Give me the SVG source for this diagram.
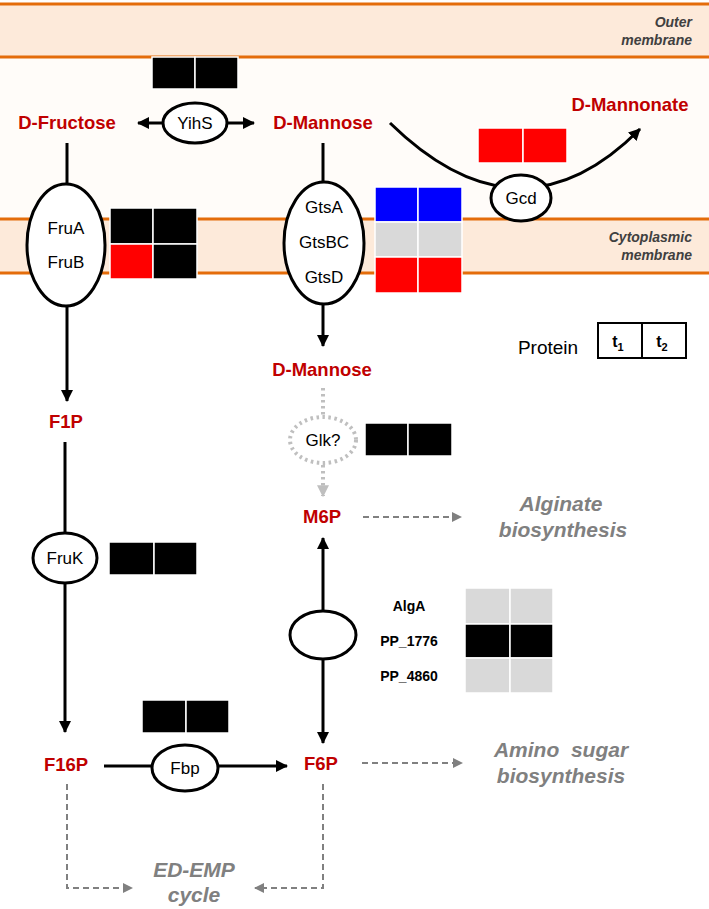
<svg xmlns="http://www.w3.org/2000/svg" width="709" height="909" viewBox="0 0 709 909">
<defs>
<style>
.mem{fill:#fdeada}
.ml{stroke:#e46c0a;stroke-width:3}
.met{font-family:"Liberation Sans",Arial,sans-serif;font-weight:bold;font-size:18.5px;fill:#c00000;text-anchor:middle}
.enz{font-family:"Liberation Sans",Arial,sans-serif;font-size:17px;fill:#000;text-anchor:middle}
.ell{fill:#fff;stroke:#000;stroke-width:3}
.ln{stroke:#000;stroke-width:3;fill:none}
.dash{stroke:#808080;stroke-width:2;stroke-dasharray:6 4;fill:none}
.dot{stroke:#bfbfbf;stroke-width:4;stroke-dasharray:2.5 3.5;fill:none}
.gl{font-family:"Liberation Sans",Arial,sans-serif;font-weight:bold;font-style:italic;font-size:21px;fill:#808080;text-anchor:middle}
.ml2{font-family:"Liberation Sans",Arial,sans-serif;font-weight:bold;font-style:italic;font-size:14px;fill:#404040;text-anchor:end}
.sm{font-family:"Liberation Sans",Arial,sans-serif;font-weight:bold;font-size:14px;fill:#000;text-anchor:middle}
.c{stroke:#fff;stroke-width:1.5}
.k{fill:#000}.r{fill:#ff0000}.b{fill:#0000ff}.g{fill:#d9d9d9}
</style>
<marker id="ah" viewBox="0 0 12 12" refX="11" refY="6" markerWidth="4" markerHeight="4" orient="auto-start-reverse" markerUnits="strokeWidth"><path d="M0,0 L12,6 L0,12 z" fill="#000"/></marker>
<marker id="ag" viewBox="0 0 10 10" refX="9" refY="5" markerWidth="5" markerHeight="5" orient="auto" markerUnits="strokeWidth"><path d="M0,0 L10,5 L0,10 z" fill="#808080"/></marker>
<marker id="al" viewBox="0 0 10 10" refX="9" refY="5" markerWidth="3" markerHeight="3" orient="auto" markerUnits="strokeWidth"><path d="M0,0 L10,5 L0,10 z" fill="#bfbfbf"/></marker>
</defs>
<rect width="709" height="909" fill="#fff"/>
<g id="membranes">
<rect x="0" y="57" width="709" height="162" fill="#fffcf9"/>
<rect class="mem" x="0" y="4" width="709" height="53"/>
<line class="ml" x1="0" y1="4" x2="709" y2="4"/>
<line class="ml" x1="0" y1="57" x2="709" y2="57"/>
<text class="ml2" x="692" y="27">Outer</text>
<text class="ml2" x="692" y="45">membrane</text>
<rect class="mem" x="0" y="219" width="709" height="54"/>
<line class="ml" x1="0" y1="219" x2="709" y2="219"/>
<line class="ml" x1="0" y1="273" x2="709" y2="273"/>
<text class="ml2" x="692" y="242">Cytoplasmic</text>
<text class="ml2" x="692" y="260">membrane</text>
</g>
<g id="connectors">
<line class="ln" x1="138" y1="123" x2="254" y2="123" marker-start="url(#ah)" marker-end="url(#ah)"/>
<path class="ln" d="M390,123 Q520,250 640,129" marker-end="url(#ah)"/>
<line class="ln" x1="67" y1="143" x2="67" y2="186"/>
<line class="ln" x1="323" y1="143" x2="323" y2="184"/>
<line class="ln" x1="67" y1="304" x2="67" y2="401" marker-end="url(#ah)"/>
<line class="ln" x1="323" y1="302" x2="323" y2="346" marker-end="url(#ah)"/>
<line class="ln" x1="65" y1="442" x2="65" y2="535"/>
<line class="ln" x1="65" y1="581" x2="65" y2="732" marker-end="url(#ah)"/>
<line class="ln" x1="104" y1="766" x2="287" y2="766" marker-end="url(#ah)"/>
<line class="ln" x1="323" y1="613" x2="323" y2="538" marker-end="url(#ah)"/>
<line class="ln" x1="323" y1="657" x2="323" y2="743" marker-end="url(#ah)"/>
<line class="dot" x1="323" y1="388" x2="323" y2="416"/>
<line class="dot" x1="323" y1="465" x2="323" y2="496" marker-end="url(#al)"/>
<line class="dash" x1="363" y1="517" x2="461" y2="517" marker-end="url(#ag)"/>
<line class="dash" x1="362" y1="763" x2="462" y2="763" marker-end="url(#ag)"/>
<path class="dash" d="M67,784 V888 H132" marker-end="url(#ag)"/>
<path class="dash" d="M323,784 V888 H255" marker-end="url(#ag)"/>
</g>
<g id="YihS">
<ellipse class="ell" cx="195" cy="123" rx="32" ry="20"/>
<text class="enz" x="195" y="129">YihS</text>
<g class="c"><rect class="k" x="152" y="57" width="43" height="32"/><rect class="k" x="195" y="57" width="43" height="32"/></g>
</g>
<g id="Gcd">
<ellipse class="ell" cx="521" cy="198" rx="30" ry="23"/>
<text class="enz" x="521" y="204">Gcd</text>
<g class="c"><rect class="r" x="478" y="128" width="45" height="35"/><rect class="r" x="523" y="128" width="44" height="35"/></g>
</g>
<g id="FruAB">
<ellipse class="ell" cx="66" cy="245" rx="39" ry="61"/>
<text class="enz" x="66" y="234">FruA</text>
<text class="enz" x="66" y="268">FruB</text>
<g class="c"><rect class="k" x="110" y="208" width="43" height="36"/><rect class="k" x="153" y="208" width="44" height="36"/><rect class="r" x="110" y="244" width="43" height="35"/><rect class="k" x="153" y="244" width="44" height="35"/></g>
</g>
<g id="Gts">
<ellipse class="ell" cx="324" cy="243" rx="40" ry="61"/>
<text class="enz" x="324" y="213">GtsA</text>
<text class="enz" x="324" y="248">GtsBC</text>
<text class="enz" x="324" y="283">GtsD</text>
<g class="c"><rect class="b" x="375" y="187" width="43" height="35"/><rect class="b" x="418" y="187" width="44" height="35"/><rect class="g" x="375" y="222" width="43" height="35"/><rect class="g" x="418" y="222" width="44" height="35"/><rect class="r" x="375" y="257" width="43" height="36"/><rect class="r" x="418" y="257" width="44" height="36"/></g>
</g>
<g id="legend">
<text x="548" y="354" font-family="Liberation Sans, Arial, sans-serif" font-size="19" text-anchor="middle">Protein</text>
<rect x="598" y="323" width="88" height="35" fill="#fff" stroke="#000" stroke-width="2"/>
<line x1="642" y1="323" x2="642" y2="358" stroke="#000" stroke-width="2"/>
<text x="618" y="347" font-family="Liberation Sans, Arial, sans-serif" font-size="16" font-weight="bold" text-anchor="middle">t<tspan font-size="11" dy="4">1</tspan></text>
<text x="662" y="347" font-family="Liberation Sans, Arial, sans-serif" font-size="16" font-weight="bold" text-anchor="middle">t<tspan font-size="11" dy="4">2</tspan></text>
</g>
<g id="metabolites">
<text class="met" x="67" y="129">D-Fructose</text>
<text class="met" x="323" y="129">D-Mannose</text>
<text class="met" x="630" y="111">D-Mannonate</text>
<text class="met" x="322" y="376">D-Mannose</text>
<text class="met" x="66" y="428">F1P</text>
<text class="met" x="322" y="523">M6P</text>
<text class="met" x="66" y="771">F16P</text>
<text class="met" x="321" y="770">F6P</text>
</g>
<g id="Glk">
<ellipse cx="323" cy="440" rx="33" ry="23" fill="#fff" stroke="#bfbfbf" stroke-width="4" stroke-dasharray="2.5 3.5"/>
<text class="enz" x="323" y="446">Glk?</text>
<g class="c"><rect class="k" x="365" y="423" width="43" height="33"/><rect class="k" x="408" y="423" width="44" height="33"/></g>
</g>
<g id="FruK">
<ellipse class="ell" cx="65" cy="558" rx="32" ry="25"/>
<text class="enz" x="65" y="564">FruK</text>
<g class="c"><rect class="k" x="109" y="542" width="45" height="33"/><rect class="k" x="154" y="542" width="43" height="33"/></g>
</g>
<g id="AlgA">
<ellipse class="ell" cx="323" cy="635" rx="33" ry="24"/>
<text class="sm" x="409" y="611">AlgA</text>
<text class="sm" x="409" y="646">PP_1776</text>
<text class="sm" x="409" y="681">PP_4860</text>
<g class="c"><rect class="g" x="465" y="588" width="45" height="36"/><rect class="g" x="510" y="588" width="43" height="36"/><rect class="k" x="465" y="624" width="45" height="34"/><rect class="k" x="510" y="624" width="43" height="34"/><rect class="g" x="465" y="658" width="45" height="35"/><rect class="g" x="510" y="658" width="43" height="35"/></g>
</g>
<g id="Fbp">
<ellipse class="ell" cx="185" cy="768" rx="33" ry="23"/>
<text class="enz" x="185" y="774">Fbp</text>
<g class="c"><rect class="k" x="142" y="700" width="44" height="33"/><rect class="k" x="186" y="700" width="43" height="33"/></g>
</g>
<g id="pathways">
<text class="gl" x="561" y="511">Alginate</text>
<text class="gl" x="563" y="537">biosynthesis</text>
<text class="gl" x="561" y="757" xml:space="preserve">Amino  sugar</text>
<text class="gl" x="561" y="783">biosynthesis</text>
<text class="gl" x="194" y="877">ED-EMP</text>
<text class="gl" x="194" y="902">cycle</text>
</g>
</svg>
